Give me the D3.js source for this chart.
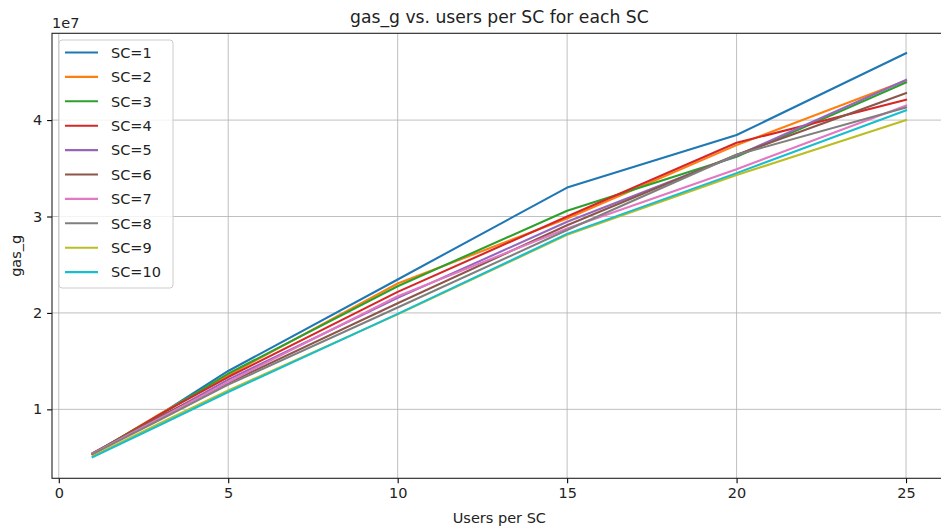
<!DOCTYPE html>
<html>
<head>
<meta charset="utf-8">
<script src="https://cdn.jsdelivr.net/npm/d3@7"></script>
<style>
  html, body { margin: 0; padding: 0; background: #fff; }
  svg { display: block; font-family: "DejaVu Sans", sans-serif; }
</style>
</head>
<body>
<svg id="chart" width="941" height="530"></svg>
<script>
// Users per SC (x positions of every series)
const usersPerSC = [1, 3, 5, 10, 15, 20, 25];

// Gas used (g) for each smart-contract count
const sc1  = [5.35e6, 9.5e6, 1.398e7, 2.347e7, 3.30e7, 3.845e7, 4.694e7];
const sc2  = [5.35e6, 9.55e6, 1.353e7, 2.305e7, 2.98e7, 3.74e7, 4.41e7];
const sc3  = [5.40e6, 9.45e6, 1.371e7, 2.277e7, 3.06e7, 3.62e7, 4.39e7];
const sc4  = [5.30e6, 9.5e6, 1.335e7, 2.218e7, 3.00e7, 3.765e7, 4.21e7];
const sc5  = [5.45e6, 9.2e6, 1.308e7, 2.156e7, 2.945e7, 3.63e7, 4.416e7];
const sc6  = [5.45e6, 9.3e6, 1.273e7, 2.10e7, 2.91e7, 3.64e7, 4.28e7];
const sc7  = [5.40e6, 9.1e6, 1.284e7, 2.173e7, 2.876e7, 3.49e7, 4.15e7];
const sc8  = [5.35e6, 8.95e6, 1.256e7, 2.056e7, 2.86e7, 3.64e7, 4.13e7];
const sc9  = [5.15e6, 8.6e6, 1.197e7, 1.985e7, 2.81e7, 3.43e7, 4.00e7];
const sc10 = [5.05e6, 8.4e6, 1.18e7, 1.99e7, 2.82e7, 3.45e7, 4.10e7];

const seriesNames = ["SC=1", "SC=2", "SC=3", "SC=4", "SC=5", "SC=6", "SC=7", "SC=8", "SC=9", "SC=10"];
const seriesValues = [sc1, sc2, sc3, sc4, sc5, sc6, sc7, sc8, sc9, sc10];

const xTicks = [0, 5, 10, 15, 20, 25];
const yTicks = [1e7, 2e7, 3e7, 4e7];

const colors = ["#1f77b4", "#ff7f0e", "#2ca02c", "#d62728", "#9467bd",
                "#8c564b", "#e377c2", "#7f7f7f", "#bcbd22", "#17becf"];

const svg = d3.select("#chart");
const plot = { left: 52, right: 946.7, top: 33.3, bottom: 478.3 };

// x domain padded 5% on both sides of the data range
const xMin = d3.min(usersPerSC), xMax = d3.max(usersPerSC);
const xPad = (xMax - xMin) * 0.05;
const x = d3.scaleLinear().domain([xMin - xPad, xMax + xPad]).range([plot.left, plot.right]);
const y = d3.scaleLinear().domain([2.85e6, 4.9e7]).range([plot.bottom, plot.top]);

// grid lines
const grid = svg.append("g").attr("stroke", "#b0b0b0").attr("stroke-width", 0.8);
grid.selectAll("line.gx").data(xTicks).join("line")
  .attr("x1", d => x(d)).attr("x2", d => x(d))
  .attr("y1", plot.top).attr("y2", plot.bottom);
grid.selectAll("line.gy").data(yTicks).join("line")
  .attr("x1", plot.left).attr("x2", plot.right)
  .attr("y1", d => y(d)).attr("y2", d => y(d));

// series lines
const line = d3.line().x((d, i) => x(usersPerSC[i])).y(d => y(d));
svg.append("g").selectAll("path").data(seriesValues).join("path")
  .attr("d", d => line(d))
  .attr("fill", "none")
  .attr("stroke", (d, i) => colors[i])
  .attr("stroke-width", 2.08)
  .attr("stroke-linejoin", "round")
  .attr("stroke-linecap", "square");

// axes
const xAxis = d3.axisBottom(x).tickValues(xTicks).tickSize(4.9).tickPadding(4.9).tickFormat(d3.format("d"));
const yAxis = d3.axisLeft(y).tickValues(yTicks).tickSize(4.9).tickPadding(4.9).tickFormat(d => d / 1e7);

const gx = svg.append("g").attr("transform", `translate(0,${plot.bottom})`).call(xAxis);
const gy = svg.append("g").attr("transform", `translate(${plot.left},0)`).call(yAxis);
[gx, gy].forEach(g => {
  g.select(".domain").remove();
  g.selectAll(".tick line").attr("stroke", "#000").attr("stroke-width", 1.1);
  g.selectAll(".tick text").attr("font-size", "14.5px").attr("fill", "#222")
    .attr("font-family", "DejaVu Sans, sans-serif");
});

// spines
const spines = svg.append("g").attr("stroke", "#222").attr("stroke-width", 1.1).attr("fill", "none");
spines.append("rect")
  .attr("x", plot.left).attr("y", plot.top)
  .attr("width", plot.right - plot.left).attr("height", plot.bottom - plot.top);

// offset text for y scale
svg.append("text").attr("x", plot.left).attr("y", plot.top - 5)
  .attr("font-size", "14.5px").attr("fill", "#222").text("1e7");

// title and labels
svg.append("text").attr("x", (plot.left + plot.right) / 2).attr("y", 23)
  .attr("text-anchor", "middle").attr("font-size", "17.2px").attr("fill", "#222")
  .text("gas_g vs. users per SC for each SC");
svg.append("text").attr("x", (plot.left + plot.right) / 2).attr("y", 523)
  .attr("text-anchor", "middle").attr("font-size", "14.5px").attr("fill", "#222").text("Users per SC");
svg.append("text")
  .attr("transform", `translate(21,${(plot.top + plot.bottom) / 2}) rotate(-90)`)
  .attr("text-anchor", "middle").attr("font-size", "14.5px").attr("fill", "#222").text("gas_g");

// legend
const legend = svg.append("g").attr("transform", "translate(59,40)");
legend.append("rect").attr("width", 114).attr("height", 248).attr("rx", 3)
  .attr("fill", "#fff").attr("fill-opacity", 0.8).attr("stroke", "#cccccc").attr("stroke-width", 1);
const items = legend.selectAll("g.item").data(seriesNames).join("g")
  .attr("transform", (d, i) => `translate(0,${12.5 + i * 24.4})`);
items.append("line").attr("x1", 6).attr("x2", 39).attr("y1", 0).attr("y2", 0)
  .attr("stroke", (d, i) => colors[i]).attr("stroke-width", 2.08);
items.append("text").attr("x", 52).attr("y", 5.2).attr("font-size", "14.5px").attr("fill", "#222").text(d => d);
</script>
</body>
</html>
